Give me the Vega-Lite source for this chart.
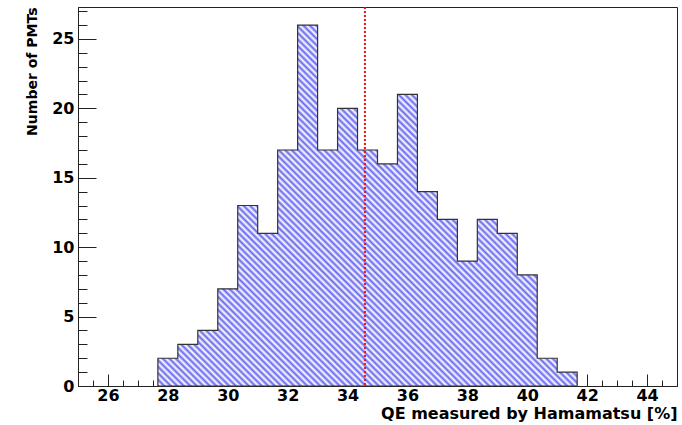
{
  "$schema": "https://vega.github.io/schema/vega-lite/v6.json",
  "width": 599,
  "height": 379,
  "autosize": {"type": "none"},
  "padding": {"left": 78, "top": 7, "right": 5, "bottom": 39},
  "background": "white",
  "config": {
    "view": {"stroke": "#222", "strokeWidth": 1},
    "axis": {
      "labelFont": "DejaVu Sans", "labelFontWeight": "bold", "labelFontSize": 16, "labelColor": "#000",
      "titleFont": "DejaVu Sans", "titleFontWeight": "bold", "titleColor": "#000",
      "domainColor": "#222", "tickColor": "#222", "grid": false, "zindex": 1
    }
  },
  "datasets": {
    "hist": [
      {"qe": 27.667, "count": 2}, {"qe": 28.333, "count": 3}, {"qe": 29.0, "count": 4},
      {"qe": 29.667, "count": 7}, {"qe": 30.333, "count": 13}, {"qe": 31.0, "count": 11},
      {"qe": 31.667, "count": 17}, {"qe": 32.333, "count": 26}, {"qe": 33.0, "count": 17},
      {"qe": 33.667, "count": 20}, {"qe": 34.333, "count": 17}, {"qe": 35.0, "count": 16},
      {"qe": 35.667, "count": 21}, {"qe": 36.333, "count": 14}, {"qe": 37.0, "count": 12},
      {"qe": 37.667, "count": 9}, {"qe": 38.333, "count": 12}, {"qe": 39.0, "count": 11},
      {"qe": 39.667, "count": 8}, {"qe": 40.333, "count": 2}, {"qe": 41.0, "count": 1},
      {"qe": 41.667, "count": 0}
    ],
    "mean": [{"qe": 34.58}]
  },
  "resolve": {"axis": {"x": "independent", "y": "independent"}},
  "layer": [
    {
      "data": {"name": "hist"},
      "mark": {
        "type": "area",
        "interpolate": "step-after",
        "stroke": "#333",
        "strokeWidth": 1.2,
        "fillOpacity": 1,
        "fill": {
          "gradient": "linear", "x1": 0, "y1": 1, "x2": 1.1103, "y2": 0.0418,
          "stops": [
            {"offset":0,"color":"#66e"},{"offset":0.004,"color":"#fff"},{"offset":0.008,"color":"#66e"},{"offset":0.012,"color":"#fff"},{"offset":0.016,"color":"#66e"},{"offset":0.02,"color":"#fff"},{"offset":0.024,"color":"#66e"},{"offset":0.028,"color":"#fff"},{"offset":0.032,"color":"#66e"},{"offset":0.036,"color":"#fff"},{"offset":0.04,"color":"#66e"},{"offset":0.044,"color":"#fff"},{"offset":0.048,"color":"#66e"},{"offset":0.052,"color":"#fff"},{"offset":0.056,"color":"#66e"},{"offset":0.06,"color":"#fff"},{"offset":0.064,"color":"#66e"},{"offset":0.068,"color":"#fff"},{"offset":0.072,"color":"#66e"},{"offset":0.076,"color":"#fff"},{"offset":0.08,"color":"#66e"},{"offset":0.084,"color":"#fff"},{"offset":0.088,"color":"#66e"},{"offset":0.092,"color":"#fff"},{"offset":0.096,"color":"#66e"},{"offset":0.1,"color":"#fff"},{"offset":0.104,"color":"#66e"},{"offset":0.108,"color":"#fff"},{"offset":0.112,"color":"#66e"},{"offset":0.116,"color":"#fff"},{"offset":0.12,"color":"#66e"},{"offset":0.124,"color":"#fff"},{"offset":0.128,"color":"#66e"},{"offset":0.132,"color":"#fff"},{"offset":0.136,"color":"#66e"},{"offset":0.14,"color":"#fff"},{"offset":0.144,"color":"#66e"},{"offset":0.148,"color":"#fff"},{"offset":0.152,"color":"#66e"},{"offset":0.156,"color":"#fff"},{"offset":0.16,"color":"#66e"},{"offset":0.164,"color":"#fff"},{"offset":0.168,"color":"#66e"},{"offset":0.172,"color":"#fff"},{"offset":0.176,"color":"#66e"},{"offset":0.18,"color":"#fff"},{"offset":0.184,"color":"#66e"},{"offset":0.188,"color":"#fff"},{"offset":0.192,"color":"#66e"},{"offset":0.196,"color":"#fff"},
            {"offset":0.2,"color":"#66e"},{"offset":0.204,"color":"#fff"},{"offset":0.208,"color":"#66e"},{"offset":0.212,"color":"#fff"},{"offset":0.216,"color":"#66e"},{"offset":0.22,"color":"#fff"},{"offset":0.224,"color":"#66e"},{"offset":0.228,"color":"#fff"},{"offset":0.232,"color":"#66e"},{"offset":0.236,"color":"#fff"},{"offset":0.24,"color":"#66e"},{"offset":0.244,"color":"#fff"},{"offset":0.248,"color":"#66e"},{"offset":0.252,"color":"#fff"},{"offset":0.256,"color":"#66e"},{"offset":0.26,"color":"#fff"},{"offset":0.264,"color":"#66e"},{"offset":0.268,"color":"#fff"},{"offset":0.272,"color":"#66e"},{"offset":0.276,"color":"#fff"},{"offset":0.28,"color":"#66e"},{"offset":0.284,"color":"#fff"},{"offset":0.288,"color":"#66e"},{"offset":0.292,"color":"#fff"},{"offset":0.296,"color":"#66e"},{"offset":0.3,"color":"#fff"},{"offset":0.304,"color":"#66e"},{"offset":0.308,"color":"#fff"},{"offset":0.312,"color":"#66e"},{"offset":0.316,"color":"#fff"},{"offset":0.32,"color":"#66e"},{"offset":0.324,"color":"#fff"},{"offset":0.328,"color":"#66e"},{"offset":0.332,"color":"#fff"},{"offset":0.336,"color":"#66e"},{"offset":0.34,"color":"#fff"},{"offset":0.344,"color":"#66e"},{"offset":0.348,"color":"#fff"},{"offset":0.352,"color":"#66e"},{"offset":0.356,"color":"#fff"},{"offset":0.36,"color":"#66e"},{"offset":0.364,"color":"#fff"},{"offset":0.368,"color":"#66e"},{"offset":0.372,"color":"#fff"},{"offset":0.376,"color":"#66e"},{"offset":0.38,"color":"#fff"},{"offset":0.384,"color":"#66e"},{"offset":0.388,"color":"#fff"},{"offset":0.392,"color":"#66e"},{"offset":0.396,"color":"#fff"},
            {"offset":0.4,"color":"#66e"},{"offset":0.404,"color":"#fff"},{"offset":0.408,"color":"#66e"},{"offset":0.412,"color":"#fff"},{"offset":0.416,"color":"#66e"},{"offset":0.42,"color":"#fff"},{"offset":0.424,"color":"#66e"},{"offset":0.428,"color":"#fff"},{"offset":0.432,"color":"#66e"},{"offset":0.436,"color":"#fff"},{"offset":0.44,"color":"#66e"},{"offset":0.444,"color":"#fff"},{"offset":0.448,"color":"#66e"},{"offset":0.452,"color":"#fff"},{"offset":0.456,"color":"#66e"},{"offset":0.46,"color":"#fff"},{"offset":0.464,"color":"#66e"},{"offset":0.468,"color":"#fff"},{"offset":0.472,"color":"#66e"},{"offset":0.476,"color":"#fff"},{"offset":0.48,"color":"#66e"},{"offset":0.484,"color":"#fff"},{"offset":0.488,"color":"#66e"},{"offset":0.492,"color":"#fff"},{"offset":0.496,"color":"#66e"},{"offset":0.5,"color":"#fff"},{"offset":0.504,"color":"#66e"},{"offset":0.508,"color":"#fff"},{"offset":0.512,"color":"#66e"},{"offset":0.516,"color":"#fff"},{"offset":0.52,"color":"#66e"},{"offset":0.524,"color":"#fff"},{"offset":0.528,"color":"#66e"},{"offset":0.532,"color":"#fff"},{"offset":0.536,"color":"#66e"},{"offset":0.54,"color":"#fff"},{"offset":0.544,"color":"#66e"},{"offset":0.548,"color":"#fff"},{"offset":0.552,"color":"#66e"},{"offset":0.556,"color":"#fff"},{"offset":0.56,"color":"#66e"},{"offset":0.564,"color":"#fff"},{"offset":0.568,"color":"#66e"},{"offset":0.572,"color":"#fff"},{"offset":0.576,"color":"#66e"},{"offset":0.58,"color":"#fff"},{"offset":0.584,"color":"#66e"},{"offset":0.588,"color":"#fff"},{"offset":0.592,"color":"#66e"},{"offset":0.596,"color":"#fff"},
            {"offset":0.6,"color":"#66e"},{"offset":0.604,"color":"#fff"},{"offset":0.608,"color":"#66e"},{"offset":0.612,"color":"#fff"},{"offset":0.616,"color":"#66e"},{"offset":0.62,"color":"#fff"},{"offset":0.624,"color":"#66e"},{"offset":0.628,"color":"#fff"},{"offset":0.632,"color":"#66e"},{"offset":0.636,"color":"#fff"},{"offset":0.64,"color":"#66e"},{"offset":0.644,"color":"#fff"},{"offset":0.648,"color":"#66e"},{"offset":0.652,"color":"#fff"},{"offset":0.656,"color":"#66e"},{"offset":0.66,"color":"#fff"},{"offset":0.664,"color":"#66e"},{"offset":0.668,"color":"#fff"},{"offset":0.672,"color":"#66e"},{"offset":0.676,"color":"#fff"},{"offset":0.68,"color":"#66e"},{"offset":0.684,"color":"#fff"},{"offset":0.688,"color":"#66e"},{"offset":0.692,"color":"#fff"},{"offset":0.696,"color":"#66e"},{"offset":0.7,"color":"#fff"},{"offset":0.704,"color":"#66e"},{"offset":0.708,"color":"#fff"},{"offset":0.712,"color":"#66e"},{"offset":0.716,"color":"#fff"},{"offset":0.72,"color":"#66e"},{"offset":0.724,"color":"#fff"},{"offset":0.728,"color":"#66e"},{"offset":0.732,"color":"#fff"},{"offset":0.736,"color":"#66e"},{"offset":0.74,"color":"#fff"},{"offset":0.744,"color":"#66e"},{"offset":0.748,"color":"#fff"},{"offset":0.752,"color":"#66e"},{"offset":0.756,"color":"#fff"},{"offset":0.76,"color":"#66e"},{"offset":0.764,"color":"#fff"},{"offset":0.768,"color":"#66e"},{"offset":0.772,"color":"#fff"},{"offset":0.776,"color":"#66e"},{"offset":0.78,"color":"#fff"},{"offset":0.784,"color":"#66e"},{"offset":0.788,"color":"#fff"},{"offset":0.792,"color":"#66e"},{"offset":0.796,"color":"#fff"},
            {"offset":0.8,"color":"#66e"},{"offset":0.804,"color":"#fff"},{"offset":0.808,"color":"#66e"},{"offset":0.812,"color":"#fff"},{"offset":0.816,"color":"#66e"},{"offset":0.82,"color":"#fff"},{"offset":0.824,"color":"#66e"},{"offset":0.828,"color":"#fff"},{"offset":0.832,"color":"#66e"},{"offset":0.836,"color":"#fff"},{"offset":0.84,"color":"#66e"},{"offset":0.844,"color":"#fff"},{"offset":0.848,"color":"#66e"},{"offset":0.852,"color":"#fff"},{"offset":0.856,"color":"#66e"},{"offset":0.86,"color":"#fff"},{"offset":0.864,"color":"#66e"},{"offset":0.868,"color":"#fff"},{"offset":0.872,"color":"#66e"},{"offset":0.876,"color":"#fff"},{"offset":0.88,"color":"#66e"},{"offset":0.884,"color":"#fff"},{"offset":0.888,"color":"#66e"},{"offset":0.892,"color":"#fff"},{"offset":0.896,"color":"#66e"},{"offset":0.9,"color":"#fff"},{"offset":0.904,"color":"#66e"},{"offset":0.908,"color":"#fff"},{"offset":0.912,"color":"#66e"},{"offset":0.916,"color":"#fff"},{"offset":0.92,"color":"#66e"},{"offset":0.924,"color":"#fff"},{"offset":0.928,"color":"#66e"},{"offset":0.932,"color":"#fff"},{"offset":0.936,"color":"#66e"},{"offset":0.94,"color":"#fff"},{"offset":0.944,"color":"#66e"},{"offset":0.948,"color":"#fff"},{"offset":0.952,"color":"#66e"},{"offset":0.956,"color":"#fff"},{"offset":0.96,"color":"#66e"},{"offset":0.964,"color":"#fff"},{"offset":0.968,"color":"#66e"},{"offset":0.972,"color":"#fff"},{"offset":0.976,"color":"#66e"},{"offset":0.98,"color":"#fff"},{"offset":0.984,"color":"#66e"},{"offset":0.988,"color":"#fff"},{"offset":0.992,"color":"#66e"},{"offset":0.996,"color":"#fff"},{"offset":1,"color":"#66e"}
          ]
        }
      },
      "encoding": {
        "x": {
          "field": "qe", "type": "quantitative",
          "scale": {"domain": [25, 45], "nice": false, "zero": false},
          "axis": {
            "orient": "bottom", "values": [26, 28, 30, 32, 34, 36, 38, 40, 42, 44],
            "tickSize": -12, "labelPadding": 13, "labelFlush": false,
            "title": "QE measured by Hamamatsu [%]", "titleFontSize": 16,
            "titleAnchor": "end", "titlePadding": 2
          }
        },
        "y": {
          "field": "count", "type": "quantitative",
          "scale": {"domain": [0, 27.3], "nice": false},
          "axis": {
            "orient": "left", "values": [0, 5, 10, 15, 20, 25],
            "tickSize": -18, "labelPadding": 22, "labelFlush": false,
            "title": "Number of PMTs", "titleFontSize": 14,
            "titleAnchor": "end", "titlePadding": 12
          }
        }
      }
    },
    {
      "data": {"name": "hist"},
      "mark": {"type": "point", "opacity": 0},
      "encoding": {
        "x": {
          "field": "qe", "type": "quantitative",
          "axis": {
            "orient": "bottom", "domain": false, "labels": false, "title": null,
            "tickSize": -6,
            "values": [25, 25.5, 26, 26.5, 27, 27.5, 28, 28.5, 29, 29.5, 30, 30.5, 31, 31.5, 32, 32.5, 33, 33.5, 34, 34.5, 35, 35.5, 36, 36.5, 37, 37.5, 38, 38.5, 39, 39.5, 40, 40.5, 41, 41.5, 42, 42.5, 43, 43.5, 44, 44.5, 45]
          }
        },
        "y": {
          "field": "count", "type": "quantitative",
          "axis": {
            "orient": "left", "domain": false, "labels": false, "title": null,
            "tickSize": -9,
            "values": [0, 1, 2, 3, 4, 5, 6, 7, 8, 9, 10, 11, 12, 13, 14, 15, 16, 17, 18, 19, 20, 21, 22, 23, 24, 25, 26, 27]
          }
        }
      }
    },
    {
      "data": {"name": "mean"},
      "mark": {"type": "rule", "color": "#f01010", "strokeWidth": 2, "strokeDash": [2, 2]},
      "encoding": {
        "x": {"field": "qe", "type": "quantitative", "axis": null}
      }
    }
  ]
}
